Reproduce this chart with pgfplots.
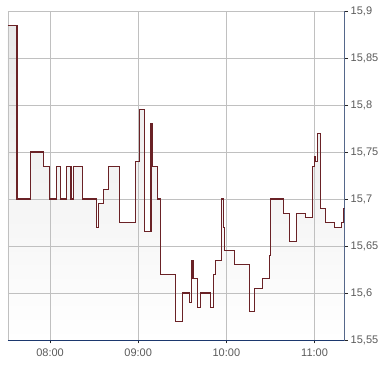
\documentclass[border=0pt]{standalone}
\usepackage{pgfplots}
\pgfplotsset{compat=1.18}
\usepackage{fontspec}
\setmainfont{Liberation Sans}
\definecolor{gridgray}{RGB}{192,192,192}
\definecolor{navy}{RGB}{28,56,110}
\definecolor{linered}{RGB}{106,34,38}
\definecolor{fillgray}{RGB}{232,232,232}
\definecolor{labelgray}{RGB}{90,90,90}
\pgfplotstableread{
x y
451.4 15.885
457.5 15.700
466.6 15.750
475.4 15.735
479.5 15.700
484.1 15.735
487.0 15.700
491.4 15.735
494.3 15.700
495.7 15.735
501.8 15.700
511.8 15.670
513.2 15.695
516.3 15.710
520.0 15.735
527.0 15.675
538.2 15.740
540.9 15.795
544.3 15.665
548.7 15.780
549.5 15.735
553.0 15.700
555.2 15.620
565.4 15.570
570.2 15.600
575.0 15.590
576.3 15.635
577.3 15.615
580.4 15.585
582.3 15.600
589.3 15.585
591.3 15.620
592.7 15.635
596.8 15.700
598.0 15.670
598.8 15.645
605.7 15.630
615.5 15.580
618.9 15.605
624.8 15.615
629.1 15.640
630.2 15.700
639.1 15.685
643.2 15.655
647.5 15.685
654.1 15.680
658.8 15.735
659.8 15.745
660.5 15.740
661.8 15.770
664.3 15.690
667.7 15.675
673.8 15.670
678.2 15.675
679.5 15.690
680.5 15.690
}\pricedata
\begin{document}
\begin{tikzpicture}
\begin{axis}[
  set layers,
  scale only axis,
  width=336.7pt, height=329pt,
  xmin=451.4, xmax=680.5,
  ymin=15.55, ymax=15.9,
  xtick={480,540,600,660},
  xticklabels={08:00,09:00,10:00,11:00},
  ytick={15.55,15.6,15.65,15.7,15.75,15.8,15.85,15.9},
  yticklabels={{15,55},{15,6},{15,65},{15,7},{15,75},{15,8},{15,85},{15,9}},
  ytick pos=right, yticklabel pos=right,
  xtick pos=bottom,
  tick align=outside,
  major tick length=3.5pt,
  tick style={draw=black!85, line width=0.8pt},
  grid=major,
  grid style={draw=gridgray, line width=0.8pt},
  axis line style={draw=gridgray, line width=0.8pt},
  tick label style={font=\fontsize{11}{13}\selectfont, text=labelgray},
  xticklabel style={yshift=-1.5pt},
  yticklabel style={xshift=-1pt},
]
\addplot[on layer=axis background, const plot, draw=none, top color=fillgray, bottom color=white] table[x=x,y=y] {\pricedata} \closedcycle;
\addplot[const plot, draw=linered, line width=1.1pt, mark=none] table[x=x,y=y] {\pricedata};
\draw[navy, line width=1pt] (rel axis cs:0,0) -- (rel axis cs:1,0) -- (rel axis cs:1,1);
\coordinate (bl) at (rel axis cs:0,0);
\coordinate (tr) at (rel axis cs:1,1);
\end{axis}
\pgfresetboundingbox
\path[use as bounding box] ([shift={(-8pt,-24pt)}]bl) rectangle ([shift={(45.3pt,11pt)}]tr);
\end{tikzpicture}
\end{document}
